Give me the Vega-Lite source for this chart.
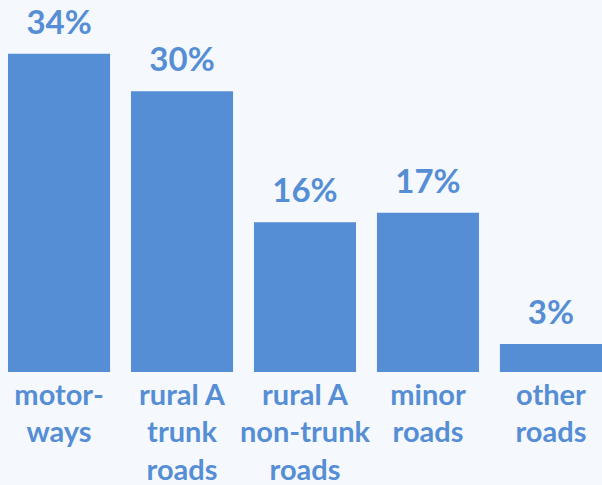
{
  "$schema": "https://vega.github.io/schema/vega-lite/v6.json",
  "width": 594,
  "height": 372,
  "padding": {"left": 8, "top": 0, "right": 0, "bottom": 113},
  "autosize": {"type": "none"},
  "background": "#F5F8FC",
  "data": {
    "values": [
      {"road": "motor-|ways", "share": 34, "label": "34%"},
      {"road": "rural A|trunk|roads", "share": 30, "label": "30%"},
      {"road": "rural A|non-trunk|roads", "share": 16, "label": "16%"},
      {"road": "minor|roads", "share": 17, "label": "17%"},
      {"road": "other|roads", "share": 3, "label": "3%"}
    ]
  },
  "encoding": {
    "x": {
      "field": "road",
      "type": "nominal",
      "sort": null,
      "scale": {"paddingInner": 0.17, "paddingOuter": 0},
      "axis": {
        "title": null,
        "domain": false,
        "ticks": false,
        "labelAngle": 0,
        "labelExpr": "split(datum.label, '|')",
        "labelFont": "Lato",
        "labelFontWeight": "bold",
        "labelFontSize": 29,
        "labelColor": "#558ED5",
        "labelBaseline": "alphabetic",
        "labelLineHeight": 37.5,
        "labelPadding": 32,
        "labelLimit": 0,
        "labelOverlap": false
      }
    },
    "y": {
      "field": "share",
      "type": "quantitative",
      "scale": {"domain": [0, 39.74], "nice": false},
      "axis": null
    }
  },
  "layer": [
    {"mark": {"type": "bar", "color": "#558ED5"}},
    {
      "mark": {
        "type": "text",
        "baseline": "alphabetic",
        "dy": -20,
        "font": "Lato",
        "fontWeight": "bold",
        "fontSize": 33,
        "color": "#558ED5"
      },
      "encoding": {"text": {"field": "label"}}
    }
  ],
  "config": {"view": {"stroke": null}}
}
